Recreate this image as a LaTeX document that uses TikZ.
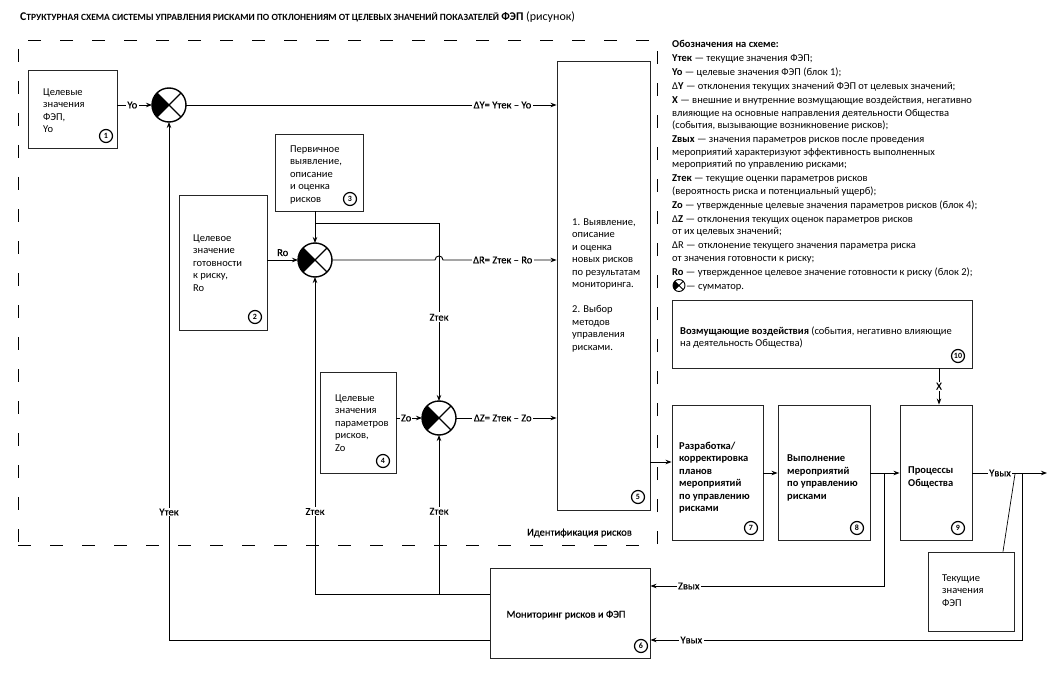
\documentclass[tikz,border=0pt]{standalone}
\usepackage{fontspec}
\setmainfont{Carlito}
\newfontfamily\medfont[FakeBold=0.5]{Carlito}
\usetikzlibrary{arrows.meta,fit}

\tikzset{
  box/.style={draw=black!85, line width=0.9pt, inner sep=0pt},
  txt/.style={anchor=north west, align=left, inner sep=0pt, font=\fontsize{10.5}{12.5}\selectfont},
  btxt/.style={txt, font=\fontsize{10.5}{12.5}\selectfont\bfseries},
  lbl/.style={fill=white, inner sep=1.5pt, font=\fontsize{10.5}{12}\selectfont\medfont},
  conn/.style={line width=0.9pt},
  arr/.style={conn, -{Stealth[length=6pt,width=4.5pt]}},
  badge/.style={circle, draw, line width=1.2pt, minimum size=13pt, inner sep=0pt, font=\fontsize{8}{8}\selectfont\bfseries},
  sumc/.style={circle, draw, inner sep=0pt, outer sep=0pt},
  dashbox/.style={draw, line width=0.9pt, dash pattern=on 13pt off 19pt, inner sep=0pt},
}

% name, position, radius, line width
\newcommand\sumnode[4]{%
  \node[sumc, minimum size=#3*2pt, line width=#4] (#1) at (#2) {};
  \begin{scope}
    \clip (#1.center) circle[radius=#3pt];
    \fill (#1.center) -- ++(-40,-40) -- ++(0,80) -- cycle;
  \end{scope}
  \draw[line width=#4] (#1.north west) -- (#1.south east) (#1.north east) -- (#1.south west);
}

\begin{document}
\begin{tikzpicture}[x=1pt,y=-1pt]
\useasboundingbox (0,0) rectangle (1058,674);
\fill[white] (0,0) rectangle (1058,674);

% title
\node[anchor=base west, inner sep=0pt] (title) at (20,20.5) {\bfseries\fontsize{11.8}{12}\selectfont С\fontsize{9.5}{12}\selectfont ТРУКТУРНАЯ СХЕМА СИСТЕМЫ УПРАВЛЕНИЯ РИСКАМИ ПО ОТКЛОНЕНИЯМ ОТ ЦЕЛЕВЫХ ЗНАЧЕНИЙ ПОКАЗАТЕЛЕЙ \fontsize{11.8}{12}\selectfont ФЭП\mdseries\fontsize{12}{12}\selectfont\ (рисунок)};

% dashed identification frame
\node[dashbox, fit={(18,40) (657,545)}] (ident) {};
\node[anchor=east, inner sep=0pt, font=\fontsize{10.5}{12}\selectfont\medfont] (identlbl) at (632,533) {Идентификация рисков};

% boxes
\node[box, fit={(28,70) (117,148)}] (b1) {};
\node[txt] (t1) at (43,88.5) {Целевые\\значения\\ФЭП,\\Yo};
\node[badge] (n1) at (106,136) {1};

\node[box, fit={(179,195) (267,330)}] (b2) {};
\node[txt] (t2) at (193,234.5) {Целевое\\значение\\готовности\\к риску,\\Ro};
\node[badge] (n2) at (255,317) {2};

\node[box, fit={(275,134) (363,211)}] (b3) {};
\node[txt] (t3) at (290,145.5) {Первичное\\выявление,\\описание\\и оценка\\рисков};
\node[badge] (n3) at (350,199) {3};

\node[box, fit={(320,372) (396,473)}] (b4) {};
\node[txt] (t4) at (335,394.5) {Целевые\\значения\\параметров\\рисков,\\Zo};
\node[badge] (n4) at (383,461) {4};

\node[box, fit={(557,61) (650,510)}] (b5) {};
\node[txt] (t5) at (572,218.5) {1. Выявление,\\описание\\и оценка\\новых рисков\\по результатам\\мониторинга.\\[12.5pt]2. Выбор\\методов\\управления\\рисками.};
\node[badge] (n5) at (638,497) {5};

\node[box, fit={(490,568) (650,658)}] (b6) {};
\node[inner sep=0pt, font=\fontsize{10.5}{12}\selectfont\medfont] (t6) at (566,615) {Мониторинг рисков и ФЭП};
\node[badge] (n6) at (641,646) {6};

\node[box, fit={(672,405) (763,540)}] (b7) {};
\node[btxt] (t7) at (679,441.5) {Разработка/\\корректировка\\планов\\мероприятий\\по управлению\\рисками};
\node[badge] (n7) at (751,528) {7};

\node[box, fit={(778,405) (870,540)}] (b8) {};
\node[btxt] (t8) at (787,454.5) {Выполнение\\мероприятий\\по управлению\\рисками};
\node[badge] (n8) at (857,528) {8};

\node[box, fit={(900,405) (972,540)}] (b9) {};
\node[btxt] (t9) at (908,466.5) {Процессы\\Общества};
\node[badge] (n9) at (958,528) {9};

\node[box, fit={(672,300) (972,368)}] (b10) {};
\node[txt] (t10) at (680,326.5) {\textbf{Возмущающие воздействия} (события, негативно влияющие\\на деятельность Общества)};
\node[badge] (n10) at (958,356) {10};

\node[box, fit={(928,552) (1014,631)}] (bt) {};
\node[txt] (tt) at (942,574.5) {Текущие\\значения\\ФЭП};

% summators
\sumnode{s1}{169,105}{17}{1.4pt}
\sumnode{s2}{315,260}{17}{1.4pt}
\sumnode{s3}{439,418}{17}{1.4pt}

% coordinates
\coordinate (j1) at (315,223);
\coordinate (j2) at (439,223);
\coordinate (zc) at (315,594);
\coordinate (zc2) at (439,594);
\coordinate (yc) at (169,640);
\coordinate (j8) at (884,473);
\coordinate (j8b) at (884,586);
\coordinate (j9) at (1022,473);
\coordinate (j9b) at (1022,640);
\coordinate (yout) at (1047,473);
\coordinate (call) at (1015,474);

% connectors, upper part
\draw[arr] (b1.east |- s1) -- node[lbl, pos=0.43] {Yo} (s1.west);
\draw[arr] (s1.east) -- node[lbl, pos=0.854] {ΔY= Yтек – Yo} (b5.west |- s1);
\draw[arr] (s2 |- b3.south) -- (s2.north);
\draw[arr] (j1) -- (j2) -- node[lbl, pos=0.53] {Zтек} (s3.north);
\draw[arr] (b2.east |- s2) -- node[lbl, above, fill=none, pos=0.5, yshift=2pt] {Ro} (s2.west);
\draw[arr] (s2.east) -- (435,260) .. controls (435,254.7) and (443,254.7) .. (443,260) -- node[lbl, pos=0.526] {ΔR= Zтек – Ro} (b5.west |- s2);
\draw[arr] (b4.east |- s3) -- node[lbl, pos=0.38, inner sep=1pt] {Zo} (s3.west);
\draw[arr] (s3.east) -- node[lbl, pos=0.465] {ΔZ= Zтек – Zo} (b5.west |- s3);

% feedback from monitoring
\draw[arr] (b6.west |- zc) -- (zc) -- node[lbl, pos=0.26, inner sep=1pt] {Zтек} (s2.south);
\draw[arr] (zc2) -- node[lbl, pos=0.52, inner sep=1pt] {Zтек} (s3.south);
\draw[arr] (b6.west |- yc) -- (yc) -- node[lbl, pos=0.247, inner sep=1pt] {Yтек} (s1.south);

% lower right chain
\draw[arr] (b5.east |- 0,462) -- (b7.west |- 0,462);
\draw[arr] (b7.east |- j8) -- (b8.west |- j8);
\draw[arr] (b8.east |- j8) -- (b9.west |- j8);
\draw[arr] (j8) -- (j8b) -- node[lbl, pos=0.836] {Zвых} (b6.east |- j8b);
\draw[arr] (b10.south -| 939,0) -- node[lbl, pos=0.49, inner sep=1pt] {X} (b9.north -| 939,0);
\draw[arr] (b9.east |- yout) -- node[lbl, pos=0.37] {Yвых} (yout);
\draw[arr] (j9) -- (j9b) -- node[lbl, pos=0.89] {Yвых} (b6.east |- j9b);
\draw[conn, line width=0.7pt] (bt.north -| 1003,0) -- (call);

% legend
\node[txt] (legend) at (672,40.5) {\textbf{Обозначения на схеме:}\\[1.5pt]
\textbf{Yтек} — текущие значения ФЭП;\\[1.5pt]
\textbf{Yo} — целевые значения ФЭП (блок 1);\\[1.5pt]
Δ\textbf{Y} — отклонения текущих значений ФЭП от целевых значений;\\[1.5pt]
\textbf{X} — внешние и внутренние возмущающие воздействия, негативно\\
влияющие на основные направления деятельности Общества\\
(события, вызывающие возникновение рисков);\\[1.5pt]
\textbf{Zвых} — значения параметров рисков после проведения\\
мероприятий характеризуют эффективность выполненных\\
мероприятий по управлению рисками;\\[1.5pt]
\textbf{Zтек} — текущие оценки параметров рисков\\
(вероятность риска и потенциальный ущерб);\\[1.5pt]
\textbf{Zo} — утвержденные целевые значения параметров рисков (блок 4);\\[1.5pt]
Δ\textbf{Z} — отклонения текущих оценок параметров рисков\\
от их целевых значений;\\[1.5pt]
ΔR — отклонение текущего значения параметра риска\\
от значения готовности к риску;\\[1.5pt]
\textbf{Ro} — утвержденное целевое значение готовности к риску (блок 2);\\[1.5pt]
\hspace{14pt}— сумматор.};
\sumnode{sleg}{679,285.5}{6}{0.9pt}

\end{tikzpicture}
\end{document}
